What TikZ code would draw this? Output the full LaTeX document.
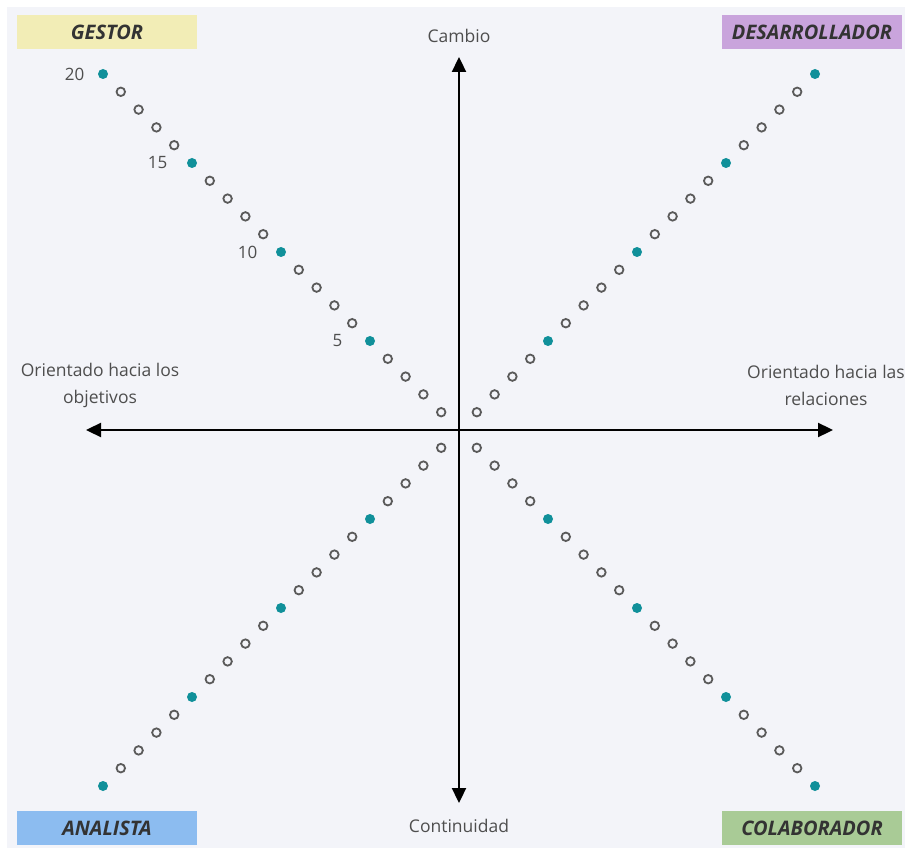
\documentclass[tikz,border=0pt]{standalone}
\usepackage{fontspec}
\setmainfont{Open Sans}
\usetikzlibrary{arrows.meta, positioning, calc}

\definecolor{bgpanel}{HTML}{F3F4F9}
\definecolor{dotteal}{HTML}{10909A}
\definecolor{ringgray}{HTML}{5A5A5A}
\definecolor{txtgray}{HTML}{4E4E4E}
\definecolor{gestorfill}{HTML}{F2EDB6}
\definecolor{desarrfill}{HTML}{C9A4DC}
\definecolor{analistafill}{HTML}{8CBCF0}
\definecolor{colabfill}{HTML}{A9CB96}

\tikzset{
    rolebox/.style={rectangle, minimum width=180pt, minimum height=34pt,
        inner sep=0pt, font=\fontsize{20}{22}\selectfont\bfseries\itshape,
        text=black!80},
    axislabel/.style={font=\fontsize{17.5}{27}\selectfont, text=txtgray, align=center},
    numlabel/.style={font=\fontsize{17}{18}\selectfont, text=txtgray, anchor=east},
    fulldot/.style={circle, fill=dotteal, minimum size=10pt, inner sep=0pt},
    ringdot/.style={circle, draw=ringgray, line width=1.8pt, minimum size=8.5pt, inner sep=0pt},
    axis/.style={line width=2.3pt, black, {Triangle[length=15pt,width=14pt]}-{Triangle[length=15pt,width=14pt]}}
}

\begin{document}
\begin{tikzpicture}[x=1pt, y=-1pt]

\useasboundingbox (0,0) rectangle (905,850);
\fill[white] (0,0) rectangle (905,850);
\fill[bgpanel] (7,7) rectangle (905,848);

%-------------------------------
% 1) Axes
%-------------------------------
\coordinate (o) at (459,430);
\coordinate (axtop) at (459,57);
\coordinate (axbot) at (459,803);
\coordinate (axleft) at (86,430);
\coordinate (axright) at (833,430);

\draw[axis] (axleft) -- (axright);
\draw[axis] (axtop) -- (axbot);

\node[axislabel] (cambio) at (459,36) {Cambio};
\node[axislabel] (continuidad) at (459,826) {Continuidad};
\node[axislabel] (objetivos) at (100,385) {Orientado hacia los\\objetivos};
\node[axislabel] (relaciones) at (826,385) {Orientado hacia las\\relaciones};

%-------------------------------
% 2) Diagonal scales
%-------------------------------
\foreach \k in {1,...,20} {
    \pgfmathtruncatemacro{\r}{mod(\k,5)}
    \ifnum\r=0
        \def\dotstyle{fulldot}
    \else
        \def\dotstyle{ringdot}
    \fi
    \node[\dotstyle] (g\k) at ($(o)+(-17.8*\k,-17.8*\k)$) {};
    \node[\dotstyle] (d\k) at ($(o)+(17.8*\k,-17.8*\k)$) {};
    \node[\dotstyle] (a\k) at ($(o)+(-17.8*\k,17.8*\k)$) {};
    \node[\dotstyle] (c\k) at ($(o)+(17.8*\k,17.8*\k)$) {};
}

% numbers on the Gestor scale
\node[numlabel, left=10pt of g20] (n20) {20};
\node[numlabel, left=16pt of g15] (n15) {15};
\node[numlabel, left=15pt of g10] (n10) {10};
\node[numlabel, left=19pt of g5] (n5) {5};

%-------------------------------
% 3) Role boxes
%-------------------------------
\node[rolebox, fill=gestorfill] (gestor) at (107,32) {GESTOR};
\node[rolebox, fill=desarrfill] (desarrollador) at (812,32) {DESARROLLADOR};
\node[rolebox, fill=analistafill] (analista) at (107,828) {ANALISTA};
\node[rolebox, fill=colabfill] (colaborador) at (812,828) {COLABORADOR};

\end{tikzpicture}
\end{document}
